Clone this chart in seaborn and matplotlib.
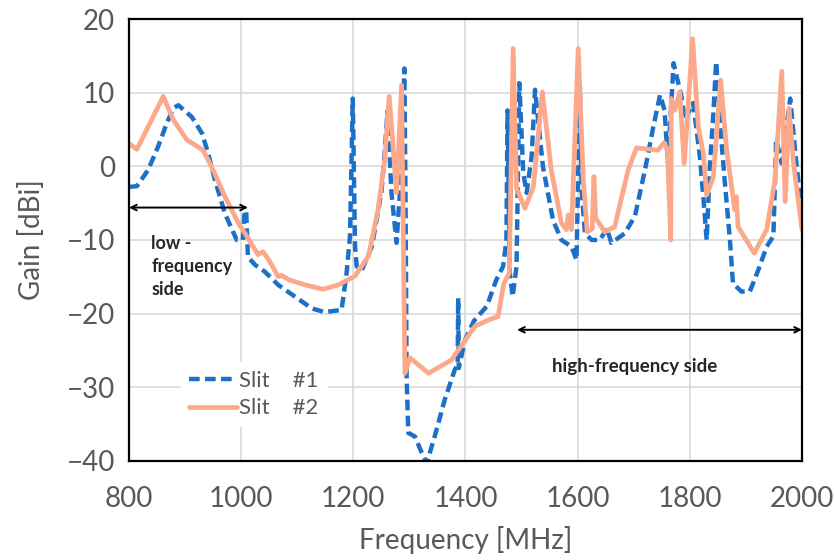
import numpy as np
import pandas as pd
import matplotlib
matplotlib.use("Agg")
import matplotlib.pyplot as plt
import seaborn as sns

# Slit #1 (dashed blue)
freq1 = [800, 814, 834, 852, 867, 879, 888, 912, 930, 941, 953, 971, 992, 1003, 1006, 1009, 1012,
         1025, 1042, 1066, 1096, 1126, 1149, 1179, 1188, 1194, 1199, 1203, 1206, 1215, 1233, 1250,
         1256, 1261, 1268, 1277, 1283, 1291, 1293, 1295, 1298, 1310, 1322, 1331, 1345, 1363, 1381,
         1386, 1387, 1388, 1399, 1415, 1438, 1455, 1467, 1473, 1475, 1479, 1484, 1491, 1496, 1503,
         1509, 1518, 1524, 1538, 1556, 1571, 1589, 1598, 1604, 1607, 1613, 1625, 1640, 1652, 1660,
         1684, 1702, 1720, 1735, 1747, 1755, 1761, 1771, 1785, 1791, 1806, 1818, 1824, 1830, 1836,
         1842, 1847, 1854, 1862, 1871, 1877, 1892, 1907, 1922, 1937, 1949, 1954, 1964, 1979, 1990, 2000]
gain1 = [-2.8, -2.7, -0.5, 2.7, 5.8, 7.9, 8.3, 6.7, 4.5, 1.8, -1.8, -6.4, -10.0, -10.0, -6.0, -6.2, -12.3,
         -13.4, -14.3, -16.1, -17.7, -19.3, -19.8, -19.5, -14.5, -9.5, 9.2, -10.9, -13.6, -14.1, -10.9, -3.6,
         2.0, 7.5, -3.6, -10.4, -3.6, 13.3, -3.6, -28.5, -36.2, -36.7, -38.9, -40.3, -36.7, -31.7, -27.6,
         -27.0, -17.9, -27.4, -23.6, -21.0, -19.0, -15.4, -13.6, -10.0, 7.6, -14.5, -17.7, -13.6, 11.3, -0.9,
         -3.6, 1.4, 10.4, 0.0, -7.3, -10.0, -10.9, -12.7, 10.8, -3.2, -9.1, -10.0, -10.0, -8.4, -10.4,
         -9.1, -6.8, -0.5, 5.4, 9.7, 7.6, 0.4, 14.0, 9.5, 6.3, 8.6, 1.3, -4.1, -10.0, 0.4,
         7.2, 14.2, 5.8, -1.8, -9.5, -15.9, -17.0, -17.0, -14.1, -10.9, -9.5, 3.6, 0.4, 9.2, 0.4, -6.4]

# Slit #2 (solid salmon)
freq2 = [800, 814, 835, 861, 879, 903, 932, 947, 971, 995, 1010, 1030, 1039, 1050, 1066, 1072, 1085,
         1114, 1146, 1173, 1203, 1227, 1244, 1256, 1264, 1277, 1286, 1292, 1301, 1334, 1375, 1417,
         1443, 1458, 1468, 1478, 1485, 1491, 1506, 1521, 1537, 1553, 1571, 1580, 1583, 1589, 1601,
         1610, 1617, 1626, 1629, 1632, 1648, 1666, 1690, 1705, 1743, 1754, 1760, 1766, 1767, 1773,
         1782, 1790, 1805, 1815, 1824, 1830, 1842, 1855, 1865, 1880, 1883, 1886, 1915, 1937, 1952,
         1964, 1970, 1977, 1985, 2000]
gain2 = [3.1, 2.3, 5.5, 9.5, 6.3, 3.6, 2.2, 0.0, -4.1, -7.7, -9.5, -12.0, -11.6, -12.8, -15.0, -14.8, -15.4,
         -16.1, -16.7, -16.1, -14.9, -12.2, -5.9, 0.9, 9.5, -3.6, 11.0, -28.1, -26.0, -28.1, -26.3, -21.7,
         -20.8, -20.4, -16.0, -14.5, 16.0, -3.0, -5.7, -2.8, 10.1, -0.5, -7.7, -8.6, -6.6, -8.6, 16.0,
         -1.8, -8.9, -8.5, -1.4, -7.0, -8.9, -8.2, -0.5, 2.5, 2.2, 3.2, 2.2, -10.0, 9.2, 7.6,
         10.1, 0.4, 17.3, 5.4, 1.8, -3.9, -1.4, 11.7, 2.7, -5.9, -4.1, -8.2, -11.8, -8.6, -1.8,
         12.9, -4.8, 7.9, 0.4, -8.6]

labels = ["Slit    #1", "Slit    #2"]
colors = ["#1C70C8", "#FBA98A"]

s1 = pd.DataFrame({"freq": freq1, "gain": gain1})
s2 = pd.DataFrame({"freq": freq2, "gain": gain2})

sns.set_style("white")
plt.rcParams["font.family"] = ["Lato", "DejaVu Sans"]

fig = plt.figure(figsize=(8.34, 5.6), dpi=100)
ax = fig.add_axes([0.1547, 0.177, 0.8069, 0.789])

sns.lineplot(data=s1, x="freq", y="gain", ax=ax, color=colors[0], lw=3.2, sort=False,
             estimator=None, label=labels[0], dashes=False, linestyle=(0, (2.4, 1.2)))
sns.lineplot(data=s2, x="freq", y="gain", ax=ax, color=colors[1], lw=3.4, sort=False,
             estimator=None, label=labels[1])

ax.set_xlim(800, 2000)
ax.set_ylim(-40, 20)
ax.set_xticks(range(800, 2001, 200))
ax.set_yticks(range(-40, 21, 10))
ax.set_yticklabels([str(v).replace("-", "\u2212") for v in range(-40, 21, 10)])
ax.grid(True, color="#d9d9d9", lw=1.2)
for sp in ax.spines.values():
    sp.set_color("black"); sp.set_linewidth(1.6)
ax.tick_params(labelsize=20, colors="#595959", length=0)
ax.tick_params(axis="x", pad=18)
ax.tick_params(axis="y", pad=10)
ax.set_xlabel("Frequency [MHz]", fontsize=20, color="#595959", labelpad=10)
ax.set_ylabel("Gain [dBi]", fontsize=20, color="#595959", labelpad=16)

# annotations
ax.annotate("", xy=(800, -5.6), xytext=(1012, -5.6),
            arrowprops=dict(arrowstyle="<->", color="black", lw=1.4, shrinkA=0, shrinkB=0))
ax.text(840, -9.3, "low -\nfrequency\nside", fontsize=13, fontweight="bold", va="top",
        ha="left", linespacing=1.45)
ax.annotate("", xy=(1492, -22.2), xytext=(2000, -22.2),
            arrowprops=dict(arrowstyle="<->", color="black", lw=1.4, shrinkA=0, shrinkB=0))
ax.text(1702, -27.2, "high-frequency side", fontsize=13.5, fontweight="bold", ha="center", va="center")

leg = ax.legend(loc="center left", bbox_to_anchor=(0.06, 0.15), frameon=True, fontsize=16,
                handlelength=2.15, handletextpad=0.1, labelspacing=0.35, borderpad=0.4)
leg.get_frame().set_facecolor("white")
leg.get_frame().set_edgecolor("none")
leg.get_frame().set_alpha(1)
for t in leg.get_texts():
    t.set_color("#595959")

fig.savefig("out.png", dpi=100)
